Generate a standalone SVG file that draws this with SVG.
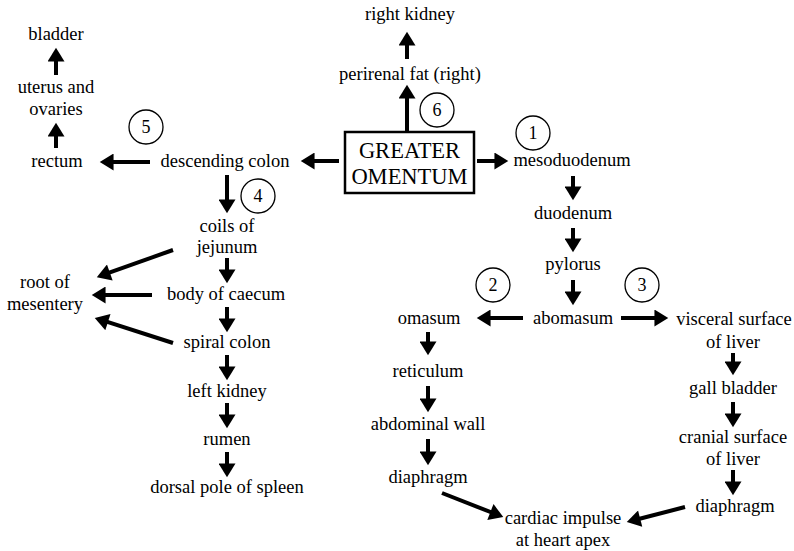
<svg xmlns="http://www.w3.org/2000/svg" width="794" height="551" viewBox="0 0 794 551" font-family="'Liberation Serif', 'DejaVu Serif', serif">
<style>
text{font-family:'Liberation Serif','DejaVu Serif',serif;font-size:18.5px;fill:#000;text-anchor:middle}
.big{font-size:22.5px}
.num{font-size:18px}
.c{fill:none;stroke:#000;stroke-width:1.3}
.a{stroke:#000;stroke-width:4;fill:none;marker-end:url(#ah)}
</style>
<defs>
<marker id="ah" markerUnits="userSpaceOnUse" markerWidth="16" markerHeight="17" viewBox="0 0 13 16" refX="9" refY="8" orient="auto">
<path d="M0,0 L13,8 L0,16 z" fill="#000"/>
</marker>
</defs>
<rect width="794" height="551" fill="#fff"/>

<g id="connectors">
<line class="a" x1="407" y1="132" x2="407" y2="89"/>
<line class="a" x1="407" y1="59" x2="407" y2="36"/>
<line class="a" x1="339" y1="161" x2="305" y2="161"/>
<line class="a" x1="150" y1="162" x2="104" y2="162"/>
<line class="a" x1="56" y1="148" x2="56" y2="127"/>
<line class="a" x1="56" y1="75" x2="56" y2="52"/>
<line class="a" x1="477" y1="161" x2="504" y2="161"/>
<line class="a" x1="573" y1="176" x2="573" y2="196"/>
<line class="a" x1="573" y1="228" x2="573" y2="248"/>
<line class="a" x1="573" y1="280" x2="573" y2="301"/>
<line class="a" x1="523" y1="318" x2="481" y2="318"/>
<line class="a" x1="621" y1="318" x2="664" y2="318"/>
<line class="a" x1="428" y1="332" x2="428" y2="351"/>
<line class="a" x1="428" y1="386" x2="428" y2="408"/>
<line class="a" x1="428" y1="439" x2="428" y2="461"/>
<line class="a" x1="442" y1="493" x2="499.3" y2="515.5"/>
<line class="a" x1="733" y1="353" x2="733" y2="371"/>
<line class="a" x1="733" y1="402" x2="733" y2="423"/>
<line class="a" x1="733" y1="470" x2="733" y2="491"/>
<line class="a" x1="685" y1="507" x2="630.9" y2="521"/>
<line class="a" x1="227" y1="175" x2="227" y2="209"/>
<line class="a" x1="227" y1="258" x2="227" y2="279"/>
<line class="a" x1="227" y1="307" x2="227" y2="328"/>
<line class="a" x1="227" y1="355" x2="227" y2="376"/>
<line class="a" x1="227" y1="403" x2="227" y2="424"/>
<line class="a" x1="227" y1="452" x2="227" y2="473"/>
<line class="a" x1="173" y1="250" x2="100.8" y2="275.7"/>
<line class="a" x1="152" y1="295" x2="96" y2="295"/>
<line class="a" x1="173" y1="343" x2="98.8" y2="319.2"/>
</g>

<g id="greater-omentum">
<rect x="345" y="132" width="129" height="61" fill="none" stroke="#000" stroke-width="2.5"/>
<text class="big" x="409.5" y="158">GREATER</text>
<text class="big" x="409.5" y="184">OMENTUM</text>
</g>
<g id="right-kidney"><text x="410" y="20">right kidney</text></g>
<g id="perirenal-fat"><text x="410" y="80">perirenal fat (right)</text></g>
<g id="circle-6"><circle class="c" cx="437" cy="110" r="17"/><text class="num" x="437" y="116">6</text></g>
<g id="circle-1"><circle class="c" cx="533" cy="133" r="17"/><text class="num" x="533" y="139">1</text></g>
<g id="circle-2"><circle class="c" cx="493" cy="285" r="17"/><text class="num" x="493" y="291">2</text></g>
<g id="circle-3"><circle class="c" cx="642" cy="285" r="17"/><text class="num" x="642" y="291">3</text></g>
<g id="circle-4"><circle class="c" cx="258" cy="196" r="17"/><text class="num" x="258" y="202">4</text></g>
<g id="circle-5"><circle class="c" cx="146" cy="127" r="17"/><text class="num" x="146" y="133">5</text></g>

<g id="descending-colon"><text x="225" y="167">descending colon</text></g>
<g id="rectum"><text x="57" y="167">rectum</text></g>
<g id="uterus-ovaries"><text x="56" y="93">uterus and</text><text x="56" y="115">ovaries</text></g>
<g id="bladder"><text x="56" y="40">bladder</text></g>

<g id="mesoduodenum"><text x="572" y="166">mesoduodenum</text></g>
<g id="duodenum"><text x="573" y="219">duodenum</text></g>
<g id="pylorus"><text x="573" y="270">pylorus</text></g>
<g id="abomasum"><text x="573" y="324">abomasum</text></g>
<g id="omasum"><text x="429" y="324">omasum</text></g>
<g id="reticulum"><text x="428" y="377">reticulum</text></g>
<g id="abdominal-wall"><text x="428" y="430">abdominal wall</text></g>
<g id="diaphragm-left"><text x="428" y="483">diaphragm</text></g>
<g id="visceral-liver"><text x="734" y="325">visceral surface</text><text x="733" y="348">of liver</text></g>
<g id="gall-bladder"><text x="733" y="394">gall bladder</text></g>
<g id="cranial-liver"><text x="733" y="443">cranial surface</text><text x="733" y="465">of liver</text></g>
<g id="diaphragm-right"><text x="735" y="512">diaphragm</text></g>
<g id="cardiac-impulse"><text x="563" y="524">cardiac impulse</text><text x="563" y="546">at heart apex</text></g>

<g id="coils-jejunum"><text x="227" y="232">coils of</text><text x="227" y="253">jejunum</text></g>
<g id="body-caecum"><text x="226" y="300">body of caecum</text></g>
<g id="spiral-colon"><text x="227" y="348">spiral colon</text></g>
<g id="left-kidney"><text x="227" y="397">left kidney</text></g>
<g id="rumen"><text x="227" y="445">rumen</text></g>
<g id="dorsal-spleen"><text x="227" y="493">dorsal pole of spleen</text></g>
<g id="root-mesentery"><text x="45" y="288">root of</text><text x="45" y="310">mesentery</text></g>
</svg>
